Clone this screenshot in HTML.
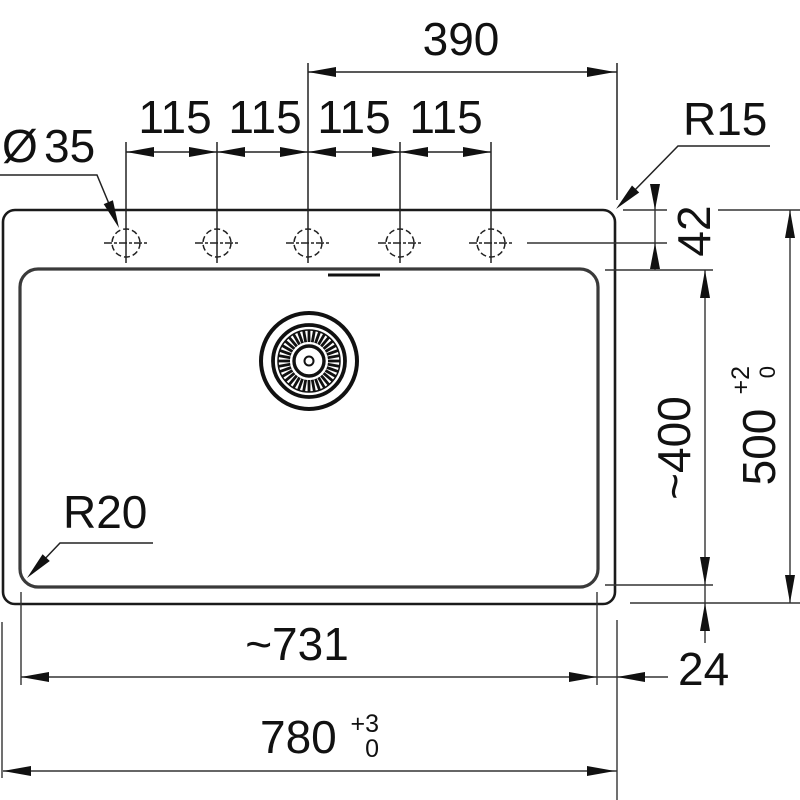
<!DOCTYPE html>
<html><head><meta charset="utf-8"><style>
html,body{margin:0;padding:0;background:#fff;}
svg{display:block;}
text{font-family:"Liberation Sans",Arial,sans-serif;fill:#111;}
</style></head><body>
<svg width="800" height="800" viewBox="0 0 800 800" xmlns="http://www.w3.org/2000/svg">
<rect width="800" height="800" fill="#fff"/>
<!-- sink outer -->
<rect x="3" y="210" width="612" height="394" rx="12" fill="none" stroke="#1a1a1a" stroke-width="2.6"/>
<!-- inner bowl -->
<rect x="20" y="269" width="578" height="318" rx="18" fill="none" stroke="#3a3a3a" stroke-width="3.2"/>
<line x1="328" y1="275" x2="380" y2="275" stroke="#111" stroke-width="3"/>
<!-- drain -->
<g transform="translate(309,361)">
<circle r="48" fill="none" stroke="#111" stroke-width="4"/>
<circle r="36" fill="none" stroke="#111" stroke-width="3.8"/>
<circle r="31" fill="none" stroke="#111" stroke-width="1.5"/>
<g stroke="#111" stroke-width="2.8">
<line x1="0" y1="-19" x2="0" y2="-31" transform="rotate(0)"/><line x1="0" y1="-19" x2="0" y2="-31" transform="rotate(10)"/><line x1="0" y1="-19" x2="0" y2="-31" transform="rotate(20)"/><line x1="0" y1="-19" x2="0" y2="-31" transform="rotate(30)"/><line x1="0" y1="-19" x2="0" y2="-31" transform="rotate(40)"/><line x1="0" y1="-19" x2="0" y2="-31" transform="rotate(50)"/><line x1="0" y1="-19" x2="0" y2="-31" transform="rotate(60)"/><line x1="0" y1="-19" x2="0" y2="-31" transform="rotate(70)"/><line x1="0" y1="-19" x2="0" y2="-31" transform="rotate(80)"/><line x1="0" y1="-19" x2="0" y2="-31" transform="rotate(90)"/><line x1="0" y1="-19" x2="0" y2="-31" transform="rotate(100)"/><line x1="0" y1="-19" x2="0" y2="-31" transform="rotate(110)"/><line x1="0" y1="-19" x2="0" y2="-31" transform="rotate(120)"/><line x1="0" y1="-19" x2="0" y2="-31" transform="rotate(130)"/><line x1="0" y1="-19" x2="0" y2="-31" transform="rotate(140)"/><line x1="0" y1="-19" x2="0" y2="-31" transform="rotate(150)"/><line x1="0" y1="-19" x2="0" y2="-31" transform="rotate(160)"/><line x1="0" y1="-19" x2="0" y2="-31" transform="rotate(170)"/><line x1="0" y1="-19" x2="0" y2="-31" transform="rotate(180)"/><line x1="0" y1="-19" x2="0" y2="-31" transform="rotate(190)"/><line x1="0" y1="-19" x2="0" y2="-31" transform="rotate(200)"/><line x1="0" y1="-19" x2="0" y2="-31" transform="rotate(210)"/><line x1="0" y1="-19" x2="0" y2="-31" transform="rotate(220)"/><line x1="0" y1="-19" x2="0" y2="-31" transform="rotate(230)"/><line x1="0" y1="-19" x2="0" y2="-31" transform="rotate(240)"/><line x1="0" y1="-19" x2="0" y2="-31" transform="rotate(250)"/><line x1="0" y1="-19" x2="0" y2="-31" transform="rotate(260)"/><line x1="0" y1="-19" x2="0" y2="-31" transform="rotate(270)"/><line x1="0" y1="-19" x2="0" y2="-31" transform="rotate(280)"/><line x1="0" y1="-19" x2="0" y2="-31" transform="rotate(290)"/><line x1="0" y1="-19" x2="0" y2="-31" transform="rotate(300)"/><line x1="0" y1="-19" x2="0" y2="-31" transform="rotate(310)"/><line x1="0" y1="-19" x2="0" y2="-31" transform="rotate(320)"/><line x1="0" y1="-19" x2="0" y2="-31" transform="rotate(330)"/><line x1="0" y1="-19" x2="0" y2="-31" transform="rotate(340)"/><line x1="0" y1="-19" x2="0" y2="-31" transform="rotate(350)"/>
</g>
<circle r="15" fill="none" stroke="#111" stroke-width="3.4"/>
<circle r="4.5" fill="none" stroke="#111" stroke-width="2"/>
</g>

<!-- tap holes -->
<g fill="none" stroke="#222" stroke-width="1.5">
<circle cx="126" cy="243" r="14" stroke-dasharray="6 3"/>
<circle cx="217" cy="243" r="14" stroke-dasharray="6 3"/>
<circle cx="308" cy="243" r="14" stroke-dasharray="6 3"/>
<circle cx="400" cy="243" r="14" stroke-dasharray="6 3"/>
<circle cx="491" cy="243" r="14" stroke-dasharray="6 3"/>
<line x1="104" y1="243" x2="148" y2="243" stroke-dasharray="8 2 3 2"/>
<line x1="195" y1="243" x2="239" y2="243" stroke-dasharray="8 2 3 2"/>
<line x1="286" y1="243" x2="330" y2="243" stroke-dasharray="8 2 3 2"/>
<line x1="378" y1="243" x2="422" y2="243" stroke-dasharray="8 2 3 2"/>
<line x1="469" y1="243" x2="513" y2="243" stroke-dasharray="8 2 3 2"/>
</g>
<g stroke="#222" stroke-width="1.5">
<line x1="126" y1="142" x2="126" y2="263"/>
<line x1="217" y1="142" x2="217" y2="263"/>
<line x1="308" y1="63" x2="308" y2="263"/>
<line x1="400" y1="142" x2="400" y2="263"/>
<line x1="491" y1="142" x2="491" y2="263"/>
<!-- 390 -->
<line x1="617" y1="63" x2="617" y2="200"/>
<line x1="308" y1="72" x2="617" y2="72"/>
<!-- 115 -->
<line x1="126" y1="152" x2="491" y2="152"/>
<!-- leaders -->
<polyline points="0,175 97,175 112,211" fill="none"/>
<polyline points="770,146 678,146 630,195" fill="none"/>
<polyline points="153,543 60,543 40,564" fill="none"/>
</g>
<!-- right side dimensions -->
<g stroke="#333" stroke-width="1.4">
<line x1="623" y1="210" x2="667" y2="210"/>
<line x1="718" y1="210" x2="800" y2="210"/>
<line x1="527" y1="243" x2="667" y2="243"/>
<line x1="605" y1="270" x2="713" y2="270"/>
<line x1="605" y1="585" x2="713" y2="585"/>
<line x1="630" y1="603" x2="800" y2="603"/>
<line x1="655" y1="185" x2="655" y2="270"/>
<line x1="705" y1="270" x2="705" y2="643"/>
<line x1="790" y1="210" x2="790" y2="603"/>
<!-- bottom -->
<line x1="21" y1="592" x2="21" y2="685"/>
<line x1="597" y1="592" x2="597" y2="685"/>
<line x1="617" y1="620" x2="617" y2="800"/>
<line x1="2" y1="622" x2="2" y2="778"/>
<line x1="21" y1="677" x2="668" y2="677"/>
<line x1="3" y1="771" x2="617" y2="771"/>
</g>
<!-- arrowheads -->
<g fill="#111">
<polygon points="308,72 336,67 336,77"/>
<polygon points="615,72 587,67 587,77"/>
<polygon points="126,152 154,147 154,157"/>
<polygon points="217,152 189,147 189,157"/>
<polygon points="217,152 245,147 245,157"/>
<polygon points="308,152 280,147 280,157"/>
<polygon points="308,152 336,147 336,157"/>
<polygon points="400,152 372,147 372,157"/>
<polygon points="400,152 428,147 428,157"/>
<polygon points="491,152 463,147 463,157"/>
<polygon points="119,228 103.7,204.1 112.9,200.3"/>
<polygon points="616,209 639.2,192.5 632,185.5"/>
<polygon points="27,578 49.8,561 42.6,554.2"/>
<polygon points="655,210 650,184 660,184"/>
<polygon points="655,243 650,269 660,269"/>
<polygon points="705,270 700,298 710,298"/>
<polygon points="705,585 700,557 710,557"/>
<polygon points="705,603 700,631 710,631"/>
<polygon points="790,210 785,238 795,238"/>
<polygon points="790,603 785,575 795,575"/>
<polygon points="21,677 49,672 49,682"/>
<polygon points="597,677 569,672 569,682"/>
<polygon points="617,677 645,672 645,682"/>
<polygon points="3,771 31,766 31,776"/>
<polygon points="615,771 587,766 587,776"/>
</g>
<!-- texts -->
<g font-size="46">
<text x="461" y="55" text-anchor="middle">390</text>
<text x="175" y="133" text-anchor="middle">115</text>
<text x="265" y="133" text-anchor="middle">115</text>
<text x="354" y="133" text-anchor="middle">115</text>
<text x="446" y="133" text-anchor="middle">115</text>
<text x="2" y="162">Ø</text>
<text x="44" y="162">35</text>
<text x="683" y="135">R15</text>
<text x="63" y="528">R20</text>
<text x="297" y="660" text-anchor="middle">~731</text>
<text x="678" y="685">24</text>
<text x="260" y="753">780</text>
<text x="710" y="231" text-anchor="middle" transform="rotate(-90 710 231)">42</text>
<text x="690" y="448" text-anchor="middle" transform="rotate(-90 690 448)">~400</text>
<text x="775" y="447" text-anchor="middle" transform="rotate(-90 775 447)">500</text>
</g>
<g font-size="25">
<text x="379" y="732" text-anchor="end">+3</text>
<text x="379" y="757" text-anchor="end">0</text>
<text x="749" y="366" transform="rotate(-90 749 366)" text-anchor="end">+2</text>
<text x="775" y="366" transform="rotate(-90 775 366)" text-anchor="end" font-size="22">0</text>
</g>
</svg>
</body></html>
